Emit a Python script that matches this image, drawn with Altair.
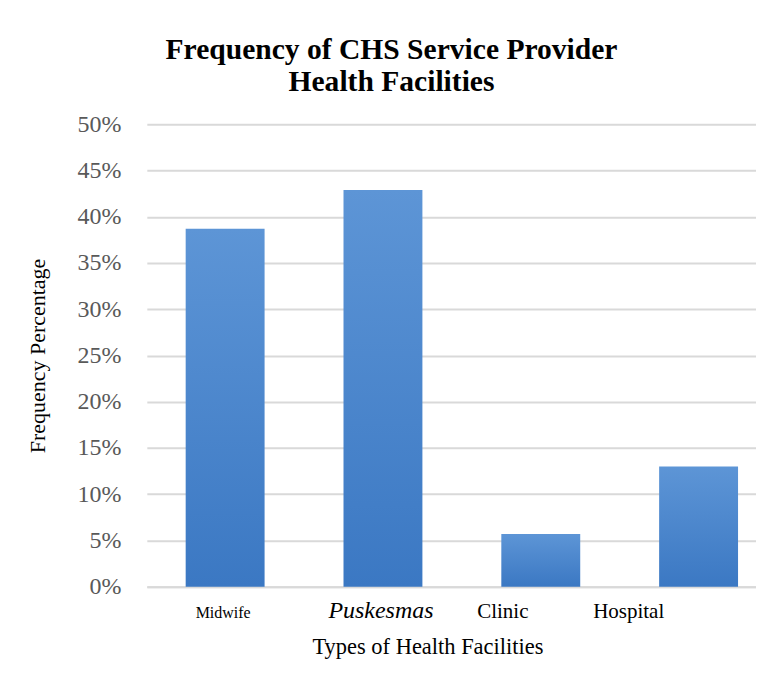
import altair as alt
import pandas as pd

categories = ["Midwife", "Puskesmas", "Clinic", "Hospital"]
values = [0.387, 0.429, 0.057, 0.130]
y_ticks = [0, 0.05, 0.10, 0.15, 0.20, 0.25, 0.30, 0.35, 0.40, 0.45, 0.50]

df = pd.DataFrame({"facility": categories, "pct": values})

grad = alt.Gradient(
    gradient="linear",
    stops=[alt.GradientStop(color="#5d95d6", offset=0),
           alt.GradientStop(color="#3b78c3", offset=1)],
    x1=0, x2=0, y1=0, y2=1,
)

serif = "Liberation Serif"

chart = alt.Chart(df).mark_bar(color=grad).encode(
    x=alt.X(
        "facility:N",
        sort=categories,
        scale=alt.Scale(paddingInner=0.5, paddingOuter=0.18, align=0.684),
        axis=alt.Axis(
            title="Types of Health Facilities",
            labelAngle=0,
            ticks=False,
            domainColor="#d9d9d9",
            domainWidth=2,
            labelFont=serif,
            labelColor="#000000",
            labelBaseline="alphabetic",
            labelPadding=31,
            labelFontSize={"condition": [
                {"test": "datum.value == 'Midwife'", "value": 16},
                {"test": "datum.value == 'Puskesmas'", "value": 24},
            ], "value": 21},
            labelFontStyle={"condition": {"test": "datum.value == 'Puskesmas'", "value": "italic"}, "value": "normal"},
            labelOffset={"condition": [
                {"test": "datum.value == 'Clinic'", "value": -38},
                {"test": "datum.value == 'Hospital'", "value": -70},
            ], "value": -2},
            titleFont=serif,
            titleFontSize=22.5,
            titleFontWeight="normal",
            titleColor="#000000",
            titlePadding=13,
            titleX=281,
            titleAlign="center",
        ),
    ),
    y=alt.Y(
        "pct:Q",
        scale=alt.Scale(domain=[0, 0.5], nice=False),
        axis=alt.Axis(
            title="Frequency Percentage",
            values=y_ticks,
            format=".0%",
            domain=False,
            ticks=False,
            gridColor="#d9d9d9",
            gridWidth=2,
            labelFont=serif,
            labelFontSize=24,
            labelColor="#595959",
            labelPadding=26,
            titleFont=serif,
            titleFontSize=22,
            titleFontWeight="normal",
            titleColor="#000000",
            titlePadding=27,
        ),
    ),
).properties(
    width=610,
    height=463,
    title=alt.TitleParams(
        text=["Frequency of CHS Service Provider", "Health Facilities"],
        font=serif,
        fontSize=29.6,
        fontWeight="bold",
        color="#000000",
        lineHeight=32,
        anchor="middle",
        frame="bounds",
        dx=0,
        offset=15,
    ),
    padding={"left": 19, "top": 26, "right": 0, "bottom": 0},
).configure(font=serif).configure_axis(labelFont=serif, titleFont=serif).configure_view(stroke=None)

chart.save("out.html", embed_options={"renderer": "svg", "actions": False})
